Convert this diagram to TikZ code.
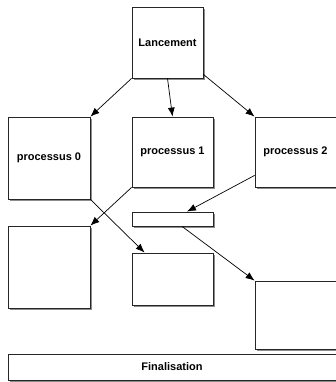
\documentclass[tikz,border=0pt]{standalone}
\usepackage{fontspec}
\setmainfont{Liberation Sans}
\usetikzlibrary{arrows.meta,shadows}

\tikzset{
  bloc/.style={draw=black!85, fill=white, line width=0.8pt, inner sep=0pt,
    font=\fontsize{11}{13}\selectfont\bfseries,
    drop shadow={shadow xshift=1.8pt, shadow yshift=-2.5pt, fill=black, opacity=0.45}},
  fleche/.style={-{Latex[length=9pt,width=7pt]}, line width=0.7pt}
}

\begin{document}
\begin{tikzpicture}[x=1pt, y=1pt]
\useasboundingbox (0,0) rectangle (336,382);

\node[bloc, minimum width=71pt, minimum height=71pt] (lanc) at (167.5,339.5) {Lancement};

\node[bloc, minimum width=82pt, minimum height=82pt] (proc0) at (49,224) {processus 0};
\node[bloc, minimum width=81pt, minimum height=70pt] (proc1) at (172.5,230) {processus 1};
\node[bloc, minimum width=81pt, minimum height=70pt] (proc2) at (295.5,230) {processus 2};

\node[bloc, minimum width=81pt, minimum height=14pt] (barre) at (172.5,163) {};

\node[bloc, minimum width=82pt, minimum height=82pt] (suite0) at (49,115) {};
\node[bloc, minimum width=81pt, minimum height=52pt] (suite1) at (172.5,103) {};
\node[bloc, minimum width=81pt, minimum height=68pt] (suite2) at (295.5,67) {};

\node[bloc, minimum width=328pt, minimum height=26pt] (fin) at (172,15) {Finalisation};

\draw[fleche] (lanc.south west) -- (proc0.north east);
\draw[fleche] (lanc.south) -- (proc1.north);
\draw[fleche] ([yshift=4pt]lanc.south east) -- (proc2.north west);

\draw[fleche] (proc1.south west) -- (suite0.north east);
\draw[fleche] (proc0.south east) -- ([xshift=13pt]suite1.north west);
\draw[fleche] ([yshift=12pt]proc2.south west) -- ([xshift=14.5pt]barre.north);
\draw[fleche] ([xshift=9.5pt]barre.south) -- (suite2.north west);
\end{tikzpicture}
\end{document}
